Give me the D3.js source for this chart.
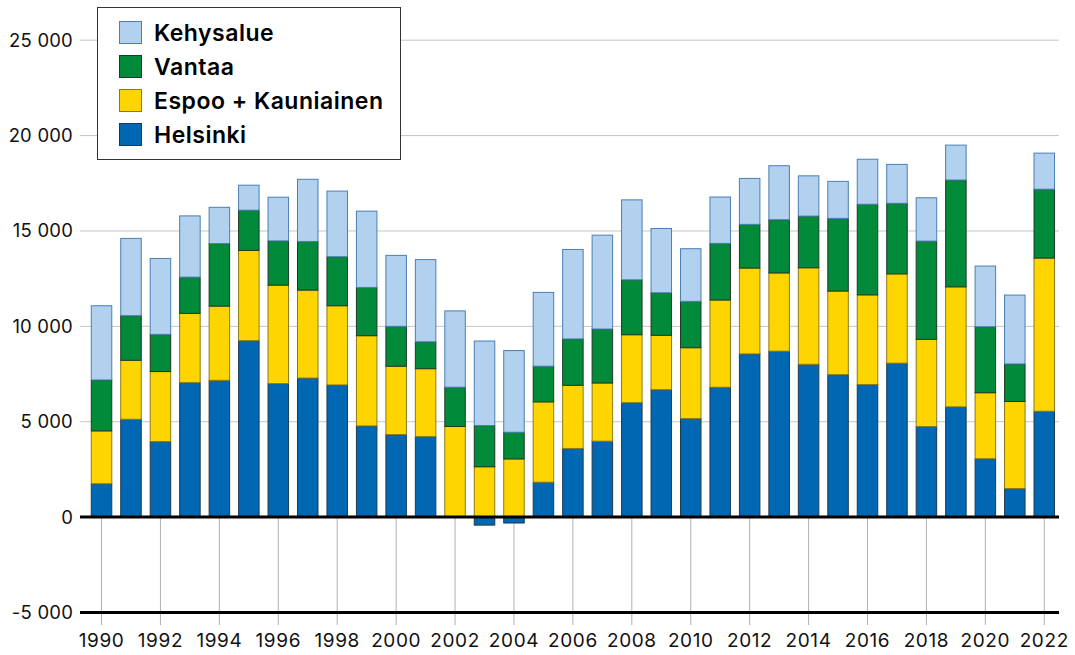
<!DOCTYPE html>
<html>
<head>
<meta charset="utf-8">
<script src="https://cdn.jsdelivr.net/npm/d3@7"></script>
<style>
	body { margin: 0; background: #fff; }
	svg { display: block; font-family: Inter, "Noto Sans", sans-serif; }
</style>
</head>
<body>
<div id="chart"></div>
<script>
var years = d3.range(1990, 2023);

var helsinki = [1750, 5130, 3960, 7050, 7170, 9250, 7000, 7290, 6930, 4780, 4330, 4220, 30, -420, -310, 1830, 3600, 3980, 6000, 6680, 5170, 6810, 8555, 8700, 8010, 7470, 6950, 8070, 4750, 5780, 3060, 1500, 5550];
var espoo = [2770, 3090, 3670, 3630, 3890, 4730, 5160, 4610, 4150, 4730, 3580, 3560, 4720, 2640, 3050, 4210, 3310, 3050, 3560, 2850, 3710, 4570, 4500, 4100, 5060, 4380, 4700, 4680, 4570, 6290, 3460, 4560, 8030];
var vantaa = [2670, 2340, 1950, 1900, 3280, 2110, 2320, 2550, 2570, 2530, 2090, 1410, 2060, 2160, 1400, 1870, 2430, 2830, 2880, 2230, 2430, 2970, 2290, 2790, 2710, 3810, 4750, 3700, 5150, 5600, 3460, 1970, 3610];
var kehys = [3890, 4050, 3980, 3210, 1900, 1310, 2290, 3260, 3440, 4000, 3720, 4310, 4000, 4430, 4280, 3870, 4690, 4920, 4190, 3370, 2760, 2430, 2410, 2830, 2110, 1940, 2360, 2040, 2270, 1830, 3180, 3610, 1890];

var seriesNames = ['Helsinki', 'Espoo + Kauniainen', 'Vantaa', 'Kehysalue'];
var yTicks = [-5000, 0, 5000, 10000, 15000, 20000, 25000];
var xTicks = d3.range(1990, 2023, 2);

var fills = { 'Helsinki': '#0068b3', 'Espoo + Kauniainen': '#ffd500', 'Vantaa': '#008a3a', 'Kehysalue': '#b1d1ef' };
var strokes = { 'Helsinki': '#1d3a52', 'Espoo + Kauniainen': '#8c7a1a', 'Vantaa': '#1e3a28', 'Kehysalue': '#4a7fb3' };

var data = years.map(function(y, i) {
	return { year: y, 'Helsinki': helsinki[i], 'Espoo + Kauniainen': espoo[i], 'Vantaa': vantaa[i], 'Kehysalue': kehys[i] };
});

var svg = d3.select('#chart').append('svg').attr('width', 1075).attr('height', 655);

var x = d3.scaleBand()
	.domain(years)
	.range([86.8, 1059])
	.paddingInner(0.27)
	.paddingOuter(0.135);

var y = d3.scaleLinear()
	.domain([-5000, 25000])
	.range([612.5, 40.2]);

var fi = d3.formatLocale({ decimal: ',', thousands: '\u00a0', grouping: [3], currency: ['', '€'], minus: '-' });
var fmt = fi.format(',d');

var left = 80, right = 1059;

// grid lines
svg.append('g')
	.selectAll('line')
	.data(yTicks.filter(function(d) { return d > 0; }))
	.enter().append('line')
	.attr('x1', left).attr('x2', right)
	.attr('y1', function(d) { return y(d); })
	.attr('y2', function(d) { return y(d); })
	.attr('stroke', '#c4c4c4')
	.attr('stroke-width', 1);

// year ticks
svg.append('g')
	.selectAll('line')
	.data(xTicks)
	.enter().append('line')
	.attr('x1', function(d) { return x(d) + x.bandwidth() / 2; })
	.attr('x2', function(d) { return x(d) + x.bandwidth() / 2; })
	.attr('y1', y(0))
	.attr('y2', 625)
	.attr('stroke', '#b0b0b0')
	.attr('stroke-width', 1);

var stack = d3.stack()
	.keys(seriesNames)
	.offset(d3.stackOffsetDiverging);

var layers = stack(data);

svg.append('g')
	.selectAll('g')
	.data(layers)
	.enter().append('g')
	.attr('fill', function(d) { return fills[d.key]; })
	.attr('stroke', function(d) { return strokes[d.key]; })
	.selectAll('rect')
	.data(function(d) { return d; })
	.enter().append('rect')
	.attr('x', function(d) { return x(d.data.year) + 0.5; })
	.attr('width', x.bandwidth() - 1)
	.attr('y', function(d) { return y(Math.max(d[0], d[1])); })
	.attr('height', function(d) { return Math.abs(y(d[0]) - y(d[1])); })
	.attr('stroke-width', 1);

// zero and bottom lines
svg.append('g')
	.selectAll('line')
	.data([0, -5000])
	.enter().append('line')
	.attr('x1', left).attr('x2', right)
	.attr('y1', function(d) { return y(d); })
	.attr('y2', function(d) { return y(d); })
	.attr('stroke', '#000')
	.attr('stroke-width', 3);

// y labels
svg.append('g')
	.selectAll('text')
	.data(yTicks)
	.enter().append('text')
	.attr('x', 73)
	.attr('y', function(d) { return y(d); })
	.attr('dy', '0.35em')
	.attr('text-anchor', 'end')
	.attr('font-size', 18.5)
	.attr('letter-spacing', 0.2)
	.attr('fill', '#111')
	.text(function(d) { return fmt(d); });

// x labels
svg.append('g')
	.selectAll('text')
	.data(xTicks)
	.enter().append('text')
	.attr('x', function(d) { return x(d) + x.bandwidth() / 2; })
	.attr('y', 647)
	.attr('text-anchor', 'middle')
	.attr('font-size', 19)
	.attr('letter-spacing', 0.6)
	.attr('fill', '#111')
	.text(function(d) { return d; });

// legend
var legend = svg.append('g');

legend.append('rect')
	.attr('x', 97.5).attr('y', 7.5)
	.attr('width', 303).attr('height', 152)
	.attr('fill', '#fff')
	.attr('stroke', '#333')
	.attr('stroke-width', 1);

var legendItems = seriesNames.slice().reverse();

var li = legend.selectAll('g.item')
	.data(legendItems)
	.enter().append('g')
	.attr('class', 'item')
	.attr('transform', function(d, i) { return 'translate(119.5,' + (21.5 + i * 34) + ')'; });

li.append('rect')
	.attr('width', 22).attr('height', 22)
	.attr('fill', function(d) { return fills[d]; })
	.attr('stroke', function(d) { return strokes[d]; })
	.attr('stroke-width', 1);

li.append('text')
	.attr('x', 34.5)
	.attr('y', 19.5)
	.attr('font-size', 23)
	.attr('font-weight', 600)
	.attr('letter-spacing', 0.5)
	.attr('fill', '#000')
	.text(function(d) { return d; });
</script>
</body>
</html>
